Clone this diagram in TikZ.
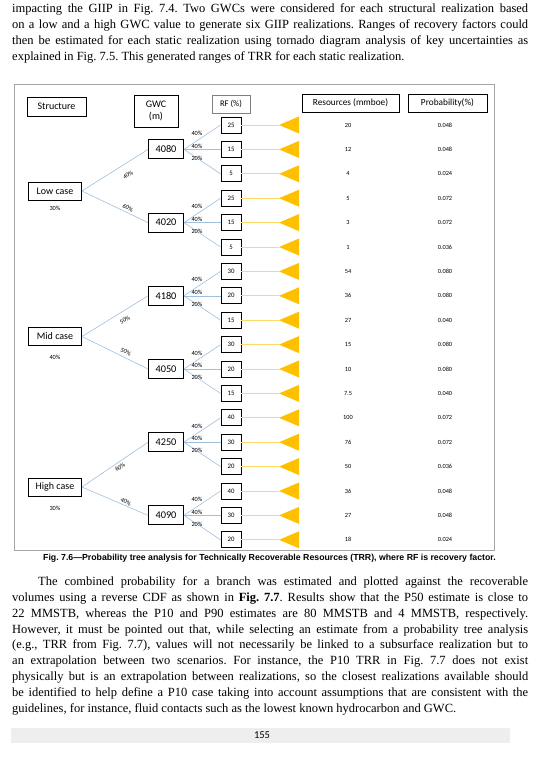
\documentclass[tikz,border=0pt]{standalone}
\usepackage{fontspec}
\setmainfont{Liberation Serif}
\newfontfamily\figfont{Carlito}
\newfontfamily\capfont{Liberation Sans}
\usetikzlibrary{calc, positioning}

\definecolor{branchblue}{HTML}{9FBFDF}
\definecolor{tipgold}{HTML}{FFC000}
\definecolor{leadgold}{HTML}{FFD966}
\definecolor{barfill}{HTML}{EEEEEE}

\newcommand{\pxsize}[1]{\fontsize{#1}{#1}\selectfont}
\newcommand{\jline}[2][516pt]{\makebox[#1][s]{#2}}
\frenchspacing

\begin{document}
\begin{tikzpicture}[
    x=1pt, y=-1pt, % page pixels, y downwards
    bodyline/.style={anchor=base west, inner sep=0pt, font=\pxsize{12.5}}, % running text
    headbox/.style={draw, line width=0.9pt, inner sep=0pt, align=center, font=\figfont\pxsize{9.3}}, % column titles
    casebox/.style={draw, line width=0.9pt, inner sep=0pt, minimum width=53pt, minimum height=18pt, font=\figfont\pxsize{10}}, % structure cases
    gwcbox/.style={draw, line width=0.9pt, inner sep=0pt, minimum width=35pt, minimum height=19pt, font=\figfont\pxsize{10.3}}, % GWC depths
    rfbox/.style={draw, line width=0.9pt, inner sep=0pt, minimum width=20pt, minimum height=16pt, font=\figfont\pxsize{6.8}}, % recovery factors
    pct/.style={inner sep=0pt, font=\figfont\pxsize{6.3}}, % branch probabilities
    cell/.style={inner sep=0pt, font=\figfont\pxsize{6.3}}, % table values
    branch/.style={branchblue, line width=0.6pt}, % tree branches
    leader/.style={leadgold, line width=0.7pt} % lines to the arrows
  ]
  \useasboundingbox (0,0) rectangle (540,764);

  % --- Text above the figure ---
  \node[bodyline] (l1) at (12,12) {\jline{impacting the GIIP in Fig. 7.4. Two GWCs were considered for each structural realization based}};
  \node[bodyline] (l2) at (12,28) {\jline{on a low and a high GWC value to generate six GIIP realizations. Ranges of recovery factors could}};
  \node[bodyline] (l3) at (12,44) {\jline{then be estimated for each static realization using tornado diagram analysis of key uncertainties as}};
  \node[bodyline] (l4) at (12,60) {explained in Fig. 7.5. This generated ranges of TRR for each static realization.};

  % --- Figure frame ---
  \draw[gray!70, line width=0.7pt] (14,84) rectangle (494,550);

  % --- Column titles ---
  \node[headbox, minimum width=59pt, minimum height=19pt, font=\figfont\pxsize{10}] (hstruct) at (56.5,106.5) {Structure};
  \node[headbox, minimum width=44pt, minimum height=32pt, font=\figfont\fontsize{10}{12.4}\selectfont] (hgwc) at (156,111) {GWC\\(m)};
  \node[headbox, draw=gray, line width=0.6pt, minimum width=38pt, minimum height=18pt, font=\figfont\pxsize{8.6}] (hrf) at (231,104) {RF (\%)};
  \node[headbox, minimum width=97pt, minimum height=18pt] (hres) at (350.5,103) {Resources (mmboe)};
  \node[headbox, minimum width=79pt, minimum height=18pt] (hprb) at (447.5,103) {Probability(\%)};

  % --- Recovery factor rows ---
  \foreach \rf/\res/\prb [count=\i from 0] in {25/20/0.048, 15/12/0.048, 5/4/0.024, 25/5/0.072, 15/3/0.072, 5/1/0.036, 30/54/0.080, 20/36/0.080, 15/27/0.040, 30/15/0.080, 20/10/0.080, 15/7.5/0.040, 40/100/0.072, 30/76/0.072, 20/50/0.036, 40/36/0.048, 30/27/0.048, 20/18/0.024} {
    \pgfmathsetmacro{\ry}{125+24.4*\i}
    \node[rfbox] (r\i) at (231,\ry) {\rf};
    \coordinate (tip\i) at (279,\ry);
    \draw[leader] (r\i.east) -- (tip\i);
    \fill[tipgold] (tip\i) -- ++(20,-8.5) -- ++(0,17) -- cycle;
    \node[cell] (res\i) at (348,\ry) {\res};
    \node[cell] (prb\i) at (445,\ry) {\prb};
  }

  % --- GWC nodes and their branches ---
  \foreach \gwc [count=\g from 0] in {4080, 4020, 4180, 4050, 4250, 4090} {
    \node[gwcbox] (g\g) at (166,{125+24.4*(3*\g+1)}) {\gwc};
    \foreach \k in {0,1,2} {
      \pgfmathtruncatemacro{\rr}{3*\g+\k}
      \draw[branch] (g\g.east) -- (r\rr.west);
    }
    \node[pct] (pa\g) at ($(g\g.east)+(13,-16)$) {40\%};
    \node[pct] (pb\g) at ($(g\g.east)+(13,-3.5)$) {40\%};
    \node[pct] (pc\g) at ($(g\g.east)+(13,8.5)$) {20\%};
  }

  % --- Structure cases ---
  \node[casebox] (low) at (55,191) {Low case};
  \node[casebox] (mid) at (55,336.5) {Mid case};
  \node[casebox] (high) at (55,487) {High case};
  \node[pct] (lowp) at (55,208) {30\%};
  \node[pct] (midp) at (55,357) {40\%};
  \node[pct] (highp) at (55,508) {30\%};

  \draw[branch] (low.east) -- (g0.west);
  \draw[branch] (low.east) -- (g1.west);
  \draw[branch] (mid.east) -- (g2.west);
  \draw[branch] (mid.east) -- (g3.west);
  \draw[branch] (high.east) -- (g4.west);
  \draw[branch] (high.east) -- (g5.west);

  \node[pct, rotate=32] (lowa) at (128,175) {40\%};
  \node[pct, rotate=-26] (lowb) at (128,208) {60\%};
  \node[pct, rotate=31] (mida) at (125,320) {50\%};
  \node[pct, rotate=-25] (midb) at (126,352) {50\%};
  \node[pct, rotate=34] (higha) at (120,467) {60\%};
  \node[pct, rotate=-25] (highb) at (126,502) {40\%};

  % --- Caption ---
  \node[anchor=base, inner sep=0pt, font=\capfont\bfseries\pxsize{8.75}] (cap) at (269.5,560) {Fig. 7.6\textemdash Probability tree analysis for Technically Recoverable Resources (TRR), where RF is recovery factor.};

  % --- Text below the figure ---
  \node[bodyline] (m1) at (38,585) {\jline[490pt]{The combined probability for a branch was estimated and plotted against the recoverable}};
  \node[bodyline] (m2) at (12,601) {\jline{volumes using a reverse CDF as shown in \textbf{Fig. 7.7}. Results show that the P50 estimate is close to}};
  \node[bodyline] (m3) at (12,617) {\jline{22 MMSTB, whereas the P10 and P90 estimates are 80 MMSTB and 4 MMSTB, respectively.}};
  \node[bodyline] (m4) at (12,633) {\jline{However, it must be pointed out that, while selecting an estimate from a probability tree analysis}};
  \node[bodyline] (m5) at (12,648) {\jline{(e.g., TRR from Fig. 7.7), values will not necessarily be linked to a subsurface realization but to}};
  \node[bodyline] (m6) at (12,664) {\jline{an extrapolation between two scenarios. For instance, the P10 TRR in Fig. 7.7 does not exist}};
  \node[bodyline] (m7) at (12,680) {\jline{physically but is an extrapolation between realizations, so the closest realizations available should}};
  \node[bodyline] (m8) at (12,696) {\jline{be identified to help define a P10 case taking into account assumptions that are consistent with the}};
  \node[bodyline] (m9) at (12,712) {guidelines, for instance, fluid contacts such as the lowest known hydrocarbon and GWC.};

  % --- Page number bar ---
  \fill[barfill] (11,728) rectangle (510,743);
  \node[inner sep=0pt, font=\figfont\pxsize{10.5}] (pnum) at (262,735.5) {155};
\end{tikzpicture}
\end{document}
